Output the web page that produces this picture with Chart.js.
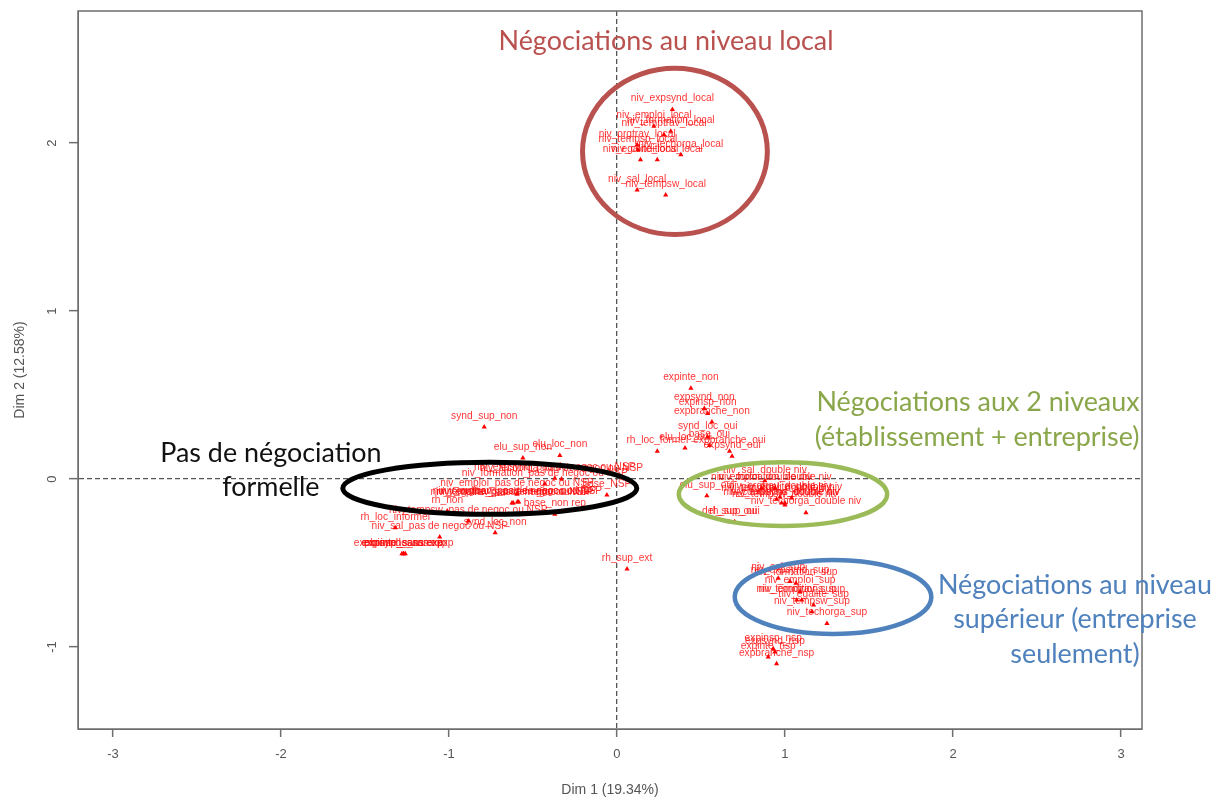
<!DOCTYPE html>
<html lang="fr">
<head>
<meta charset="utf-8">
<title>ACM - niveaux de négociation</title>
<script src="https://cdn.jsdelivr.net/npm/chart.js@4"></script>
<style>
  html, body { margin: 0; background: #fff; }
  #wrap { position: relative; width: 1221px; height: 799px; }
</style>
</head>
<body>
<div id="wrap"><canvas id="acm"></canvas></div>
<script>
const xTicks = [-3, -2, -1, 0, 1, 2, 3];
const yTicks = [-1, 0, 1, 2];

// Modalités : nom, Dim 1, Dim 2
const localNames = ['niv_expsynd_local', 'niv_emploi_local', 'niv_formation_local', 'niv_temptrav_local', 'niv_orgtrav_local', 'niv_tempsp_local', 'niv_techorga_local', 'niv_egalite_local', 'niv_conditions_local', 'niv_sal_local', 'niv_tempsw_local'];
const localDim1 = [0.33, 0.22, 0.32, 0.28, 0.12, 0.125, 0.38, 0.14, 0.24, 0.12, 0.29];
const localDim2 = [2.20, 2.10, 2.07, 2.05, 1.99, 1.96, 1.93, 1.90, 1.90, 1.72, 1.69];

const noNegoNames = ['synd_sup_non', 'elu_sup_non', 'elu_loc_non', 'niv_expsynd_pas de negoc ou NSP', 'niv_formation_pas de negoc ou NSP', 'niv_techorga_pas de negoc ou NSP', 'niv_emploi_pas de negoc ou NSP', 'base_NSP', 'niv_temptrav_pas de negoc ou NSP', 'niv_orgtrav_pas de negoc ou NSP', 'niv_egalite_pas de negoc ou NSP', 'niv_conditions_pas de negoc ou NSP', 'rh_non', 'base_non rep', 'niv_tempsw_pas de negoc ou NSP', 'rh_loc_informel', 'niv_sal_pas de negoc ou NSP', 'synd_loc_non', 'expinte_sans exp', 'expbranche_sans exp', 'expsynd_sans exp', 'expinsp_sans exp', 'rh_sup_ext'];
const noNegoDim1 = [-0.79, -0.56, -0.34, -0.37, -0.43, -0.33, -0.595, -0.06, -0.625, -0.585, -0.617, -0.593, -1.01, -0.37, -0.885, -1.32, -1.055, -0.725, -1.27, -1.27, -1.26, -1.28, 0.06];
const noNegoDim2 = [0.31, 0.125, 0.14, 0.005, -0.03, 0.0, -0.09, -0.095, -0.143, -0.137, -0.143, -0.137, -0.19, -0.21, -0.25, -0.29, -0.345, -0.32, -0.445, -0.445, -0.445, -0.445, -0.535];

const doubleNames = ['expinte_non', 'expsynd_non', 'expinsp_non', 'expbranche_non', 'synd_loc_oui', 'base_oui', 'rh_loc_formel', 'elu_loc_oui', 'expbranche_oui', 'expsynd_oui', 'niv_sal_double niv', 'niv_emploi_double niv', 'niv_formation_double niv', 'niv_temptrav_double niv', 'niv_orgtrav_double niv', 'niv_egalite_double niv', 'niv_conditions_double niv', 'niv_expsynd_double niv', 'niv_tempsw_double niv', 'niv_techorga_double niv', 'elu_sup_oui', 'del_sup_oui', 'rh_sup_oui'];
const doubleDim1 = [0.44, 0.52, 0.54, 0.565, 0.54, 0.55, 0.24, 0.405, 0.67, 0.685, 0.88, 0.86, 0.94, 0.95, 0.97, 1.04, 0.98, 1.0, 1.0, 1.125, 0.535, 0.67, 0.70];
const doubleDim2 = [0.54, 0.42, 0.39, 0.34, 0.25, 0.20, 0.165, 0.185, 0.165, 0.135, -0.01, -0.055, -0.055, -0.12, -0.107, -0.113, -0.143, -0.143, -0.155, -0.20, -0.10, -0.255, -0.255];

const supNames = ['niv_sal_sup', 'niv_formation_sup', 'niv_expsynd_sup', 'niv_emploi_sup', 'niv_temptrav_sup', 'niv_conditions_sup', 'niv_egalite_sup', 'niv_tempsw_sup', 'niv_techorga_sup', 'expinsp_nsp', 'expsynd_nsp', 'expinte_nsp', 'expbranche_nsp'];
const supDim1 = [0.96, 1.065, 1.03, 1.09, 1.07, 1.10, 1.17, 1.16, 1.25, 0.93, 0.94, 0.90, 0.95];
const supDim2 = [-0.59, -0.62, -0.61, -0.67, -0.72, -0.72, -0.75, -0.79, -0.86, -1.01, -1.03, -1.06, -1.10];

// Ellipses et titres posés à la main, en unités des axes
const ellipses = [
  { x: 0.345, y: 1.95, rx: 0.55, ry: 0.495, color: '#b9514f', width: 5 },
  { x: -0.757, y: -0.055, rx: 0.875, ry: 0.155, color: '#000000', width: 5 },
  { x: 0.988, y: -0.09, rx: 0.62, ry: 0.19, color: '#9bbb59', width: 4.5 },
  { x: 1.286, y: -0.702, rx: 0.585, ry: 0.22, color: '#4f81bd', width: 4.5 },
];
const notes = [
  { x: 0.292, y: 2.606, text: 'Négociations au niveau local', color: '#b9514f' },
  { x: 2.149, y: 0.458, text: 'Négociations aux 2 niveaux', color: '#8aa64a' },
  { x: 2.143, y: 0.25, text: '(établissement + entreprise)', color: '#8aa64a' },
  { x: -2.060, y: 0.155, text: 'Pas de négociation', color: '#111111' },
  { x: -2.060, y: -0.05, text: 'formelle', color: '#111111' },
  { x: 2.726, y: -0.63, text: 'Négociations au niveau', color: '#4f81bd' },
  { x: 2.726, y: -0.835, text: 'supérieur (entreprise', color: '#4f81bd' },
  { x: 2.726, y: -1.045, text: 'seulement)', color: '#4f81bd' },
];

const names = [...localNames, ...noNegoNames, ...doubleNames, ...supNames];
const dim1 = [...localDim1, ...noNegoDim1, ...doubleDim1, ...supDim1];
const dim2 = [...localDim2, ...noNegoDim2, ...doubleDim2, ...supDim2];

const axisGrey = '#6e6e6e';
const textGrey = '#555555';

// Cadre, noms des modalités, graduations verticales de R, ellipses et titres
const decorPlugin = {
  id: 'decor',
  afterDraw(chart) {
    const { ctx, chartArea: a, scales: { x, y } } = chart;
    ctx.save();

    ctx.strokeStyle = axisGrey;
    ctx.lineWidth = 1.5;
    ctx.strokeRect(a.left, a.top, a.right - a.left, a.bottom - a.top);

    ctx.fillStyle = 'rgba(255,0,0,0.8)';
    ctx.font = '10.2px "Liberation Sans"';
    ctx.textAlign = 'center';
    ctx.textBaseline = 'middle';
    names.forEach((name, i) => {
      ctx.fillText(name, x.getPixelForValue(dim1[i]), y.getPixelForValue(dim2[i]) - 11);
    });

    ctx.fillStyle = textGrey;
    ctx.font = '13px "Liberation Sans"';
    yTicks.forEach((v) => {
      ctx.save();
      ctx.translate(52, y.getPixelForValue(v));
      ctx.rotate(-Math.PI / 2);
      ctx.fillText(String(v), 0, 0);
      ctx.restore();
    });

    ellipses.forEach((e) => {
      ctx.strokeStyle = e.color;
      ctx.lineWidth = e.width;
      ctx.beginPath();
      ctx.ellipse(
        x.getPixelForValue(e.x), y.getPixelForValue(e.y),
        x.getPixelForValue(e.x + e.rx) - x.getPixelForValue(e.x),
        y.getPixelForValue(e.y) - y.getPixelForValue(e.y + e.ry),
        0, 0, Math.PI * 2,
      );
      ctx.stroke();
    });

    ctx.font = '26.9px Lato';
    notes.forEach((n) => {
      ctx.fillStyle = n.color;
      ctx.fillText(n.text, x.getPixelForValue(n.x), y.getPixelForValue(n.y));
    });
    ctx.restore();
  },
};

const zeroLine = (c) => (c.tick.value === 0 ? '#555555' : 'rgba(0,0,0,0)');

new Chart(document.getElementById('acm'), {
  type: 'scatter',
  data: {
    datasets: [{
      data: names.map((_, i) => ({ x: dim1[i], y: dim2[i] })),
      backgroundColor: '#ff0000',
      borderColor: '#ff0000',
      pointStyle: 'triangle',
      pointRadius: 3,
      borderWidth: 0,
    }],
  },
  options: {
    responsive: true,
    maintainAspectRatio: false,
    animation: false,
    layout: { padding: { top: 11, right: 79 } },
    plugins: { legend: { display: false }, tooltip: { enabled: false } },
    scales: {
      x: {
        min: -3.208,
        max: 3.125,
        afterFit: (s) => { s.height = 70; },
        afterBuildTicks: (s) => { s.ticks = xTicks.map((value) => ({ value })); },
        border: { color: axisGrey, dash: [5, 3] },
        grid: { color: zeroLine, lineWidth: 1.3, tickColor: axisGrey, tickLength: 8, tickBorderDash: [], tickWidth: 1.5 },
        ticks: { color: textGrey, font: { family: 'Liberation Sans', size: 13 }, padding: 10, maxRotation: 0 },
        title: { display: true, text: 'Dim 1 (19.34%)', color: textGrey, font: { family: 'Liberation Sans', size: 14 }, padding: { top: 14, bottom: 0 } },
      },
      y: {
        min: -1.488,
        max: 2.786,
        afterFit: (s) => { s.width = 78; },
        afterBuildTicks: (s) => { s.ticks = yTicks.map((value) => ({ value })); },
        border: { color: axisGrey, dash: [5, 3] },
        grid: { color: zeroLine, lineWidth: 1.3, tickColor: axisGrey, tickLength: 9, tickBorderDash: [], tickWidth: 1.5 },
        ticks: { display: false },
        title: { display: true, text: 'Dim 2 (12.58%)', color: textGrey, font: { family: 'Liberation Sans', size: 14 }, padding: { top: 12, bottom: 0 } },
      },
    },
  },
  plugins: [decorPlugin],
});
</script>
</body>
</html>
